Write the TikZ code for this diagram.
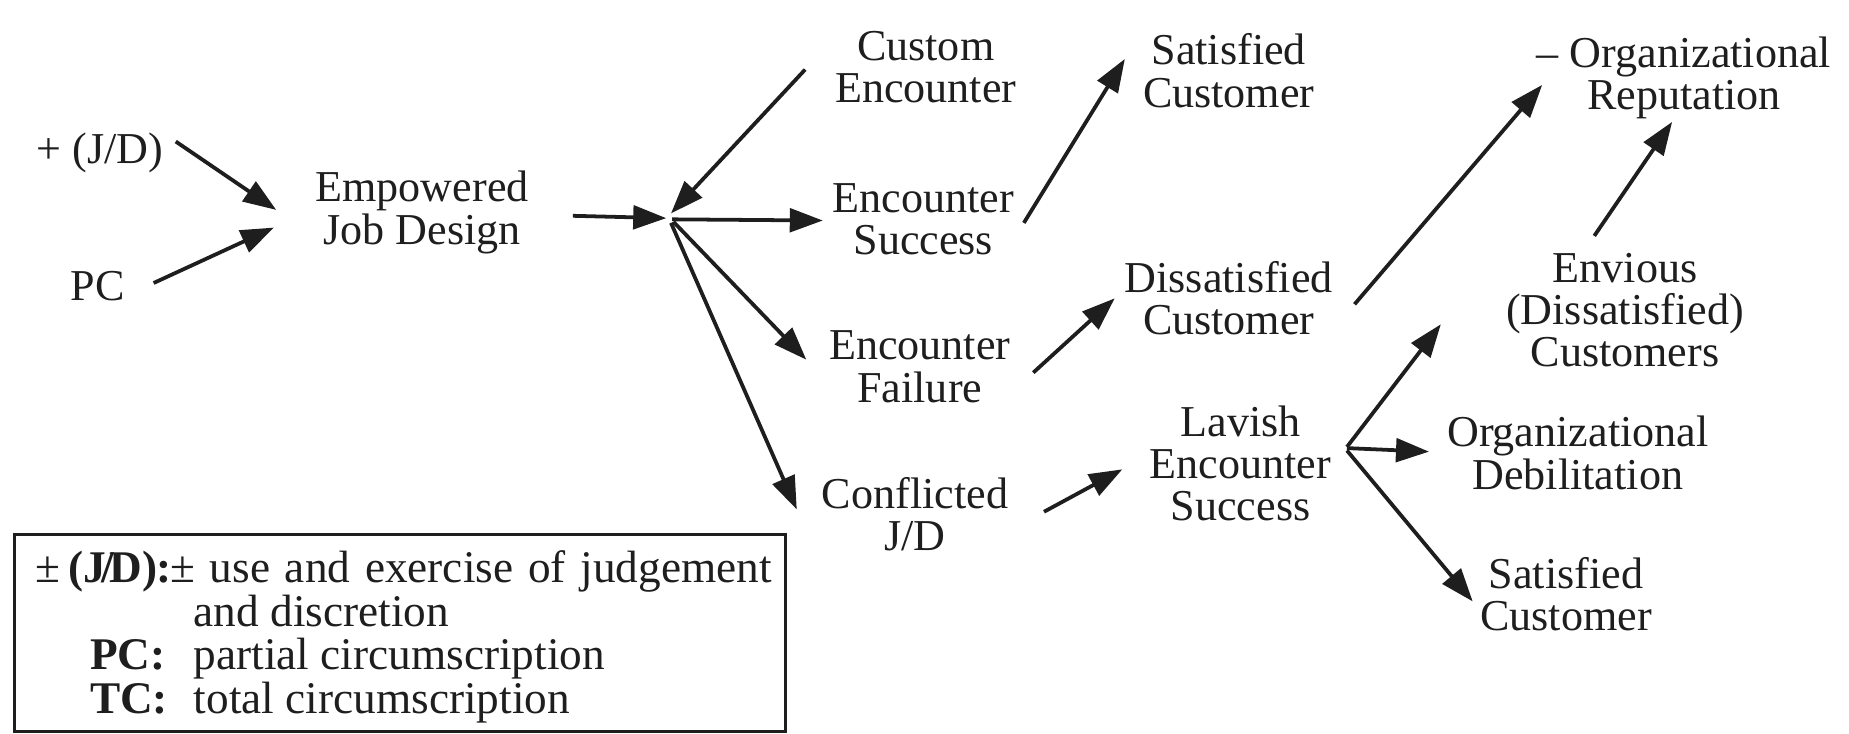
\documentclass[tikz,border=0pt]{standalone}
\usepackage{fontspec}
\setmainfont{Liberation Serif}
\usetikzlibrary{arrows.meta,calc}
\definecolor{ink}{HTML}{1E1E1E}
\begin{document}
\begin{tikzpicture}[x=0.5pt,y=-0.5pt,
  txt/.style={align=center, inner sep=0pt, font=\fontsize{18.7}{18}\selectfont, text=ink},
  legtxt/.style={anchor=base west, inner sep=0pt, font=\fontsize{19.2}{18.5}\selectfont, text=ink},
  arr/.style={draw=ink, line width=1.6pt, -{Triangle[length=14pt,width=10pt]}},
  legbox/.style={draw=ink, line width=1.3pt, inner sep=0pt, minimum width=327pt, minimum height=83.5pt}
]
\useasboundingbox (0,0) rectangle (1568,622);
% nodes
\node[txt] (pj) at (85,130) {+ (J/D)};
\node[txt] (pc) at (83,243) {PC};
\node[txt] (ejd) at (358,180) {Empowered\\Job Design};
\coordinate (hub) at (567,185);
\node[txt] (ce) at (785,57) {Custom\\Encounter};
\node[txt] (es) at (783,186) {Encounter\\Success};
\node[txt] (ef) at (780,311) {Encounter\\Failure};
\node[txt] (cjd) at (776,436) {Conflicted\\J/D};
\node[txt] (sc1) at (1042,60) {Satisfied\\Customer};
\node[txt] (dc) at (1042,253) {Dissatisfied\\Customer};
\node[txt] (les) at (1052,393) {Lavish\\Encounter\\Success};
\node[txt] (orep) at (1428,66) {– Organizational\\Reputation};
\node[txt] (env) at (1378,263) {Envious\\(Dissatisfied)\\Customers};
\node[txt] (odeb) at (1338,384) {Organizational\\Debilitation};
\node[txt] (sc2) at (1328,504) {Satisfied\\Customer};
\coordinate (fan) at ($(les.east)+(13,-14)$);
% connectors
\draw[arr] ($(pj.east)+(10,-10)$) -- ($(ejd.west)+(-33,-2)$);
\draw[arr] ($(pc.east)+(24,-3)$) -- ($(ejd.west)+(-35,13)$);
\draw[arr] ($(ejd.east)+(37,3)$) -- ($(hub)+(-2,0)$);
\draw[arr] ($(ce.west)+(-25,2)$) -- ($(hub)+(2,-4)$);
\draw[arr] ($(hub)+(3,1)$) -- ($(es.west)+(-8,1)$);
\draw[arr] ($(hub)+(4,3)$) -- ($(ef.west)+(-19,-6)$);
\draw[arr] ($(hub)+(2,4)$) -- ($(cjd.west)+(-21,-4)$);
\draw[arr] ($(es.east)+(8,3)$) -- ($(sc1.west)+(-15,-10)$);
\draw[arr] ($(ef.east)+(19,5)$) -- ($(dc.west)+(-8,0)$);
\draw[arr] ($(cjd.east)+(30,-2)$) -- ($(les.west)+(-23,5)$);
\draw[arr] ($(dc.east)+(18,5)$) -- ($(orep.west)+(5,6)$);
\draw[arr] ($(env.north)+(-26,-14)$) -- ($(orep.south)+(-10,2)$);
\draw[arr] (fan) -- ($(env.west)+(-55,12)$);
\draw[arr] ($(fan)+(0,1)$) -- ($(odeb.west)+(-15,-1)$);
\draw[arr] ($(fan)+(0,3)$) -- ($(sc2.west)+(-6,6)$);
% legend
\node[legbox, anchor=north west] (legend) at (11,452) {};
\node[legtxt] (l1) at ($(legend.north west)+(19,42)$) {\makebox[14pt][l]{±}\makebox[43pt][l]{\bfseries (J\kern-2pt/\kern-2ptD)\kern-0.5pt:}\makebox[255pt][s]{± use and exercise of judgement}};
\node[legtxt] (l2) at ($(l1.base west)+(134,37)$) {and discretion};
\node[legtxt] (l3) at ($(l1.base west)+(46,74)$) {\makebox[44pt][l]{\bfseries PC:}partial circumscription};
\node[legtxt] (l4) at ($(l1.base west)+(46,111)$) {\makebox[44pt][l]{\bfseries TC:}total circumscription};
\end{tikzpicture}
\end{document}
